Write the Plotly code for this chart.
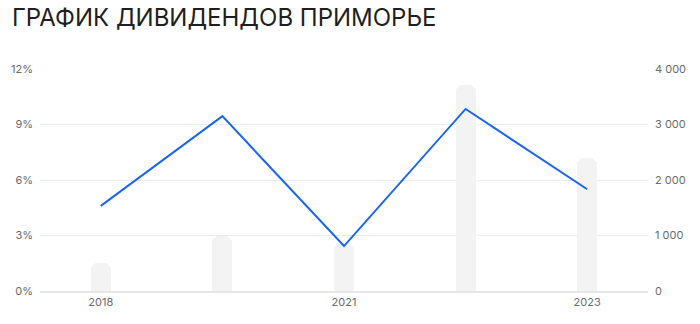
import plotly.graph_objects as go

years = ["2018", "2019", "2021", "2022", "2023"]
dividend_rub = [500, 1000, 870, 3710, 2390]
yield_pct = [4.6, 9.45, 2.43, 9.84, 5.5]
tick_years = ["2018", "2021", "2023"]
left_ticks = [0, 3, 6, 9, 12]
left_labels = ["0%", "3%", "6%", "9%", "12%"]
right_ticks = [0, 1000, 2000, 3000, 4000]
right_labels = ["0", "1 000", "2 000", "3 000", "4 000"]

fig = go.Figure()
fig.add_trace(go.Bar(
    x=years, y=dividend_rub, yaxis="y",
    marker=dict(color="#f3f3f3", cornerradius=7, line=dict(width=0)),
    width=0.165, hoverinfo="skip",
))
fig.add_trace(go.Scatter(
    x=years, y=yield_pct, yaxis="y2", mode="lines",
    line=dict(color="#1a66f0", width=2),
))

fig.update_layout(
    width=700, height=324,
    margin=dict(l=40, r=52, t=69, b=33),
    paper_bgcolor="white", plot_bgcolor="white",
    showlegend=False,
    font=dict(family="Inter, Roboto, sans-serif", color="#6b6b6b", size=11),
    title=dict(text="ГРАФИК ДИВИДЕНДОВ ПРИМОРЬЕ", x=0.017, xanchor="left",
               y=0.945, yanchor="middle",
               font=dict(family="Inter, Roboto, sans-serif", size=24, color="#1f1f1f")),
    xaxis=dict(type="category", tickvals=tick_years, ticktext=tick_years,
               showgrid=False, showline=True, linecolor="#e6e6e6", linewidth=1.5,
               ticks="", tickfont=dict(size=11, color="#6b6b6b"), fixedrange=True),
    yaxis=dict(range=[0, 4000], tickvals=right_ticks, ticktext=right_labels,
               side="right", showgrid=True, gridcolor="#e9edf3", gridwidth=1,
               zeroline=False, ticks="", ticklabelstandoff=6),
    yaxis2=dict(range=[0, 12], tickvals=left_ticks, ticktext=left_labels,
                overlaying="y", side="left", showgrid=False, zeroline=False,
                ticks="", ticklabelstandoff=6),
    bargap=0,
)
fig.write_html("out.html")
